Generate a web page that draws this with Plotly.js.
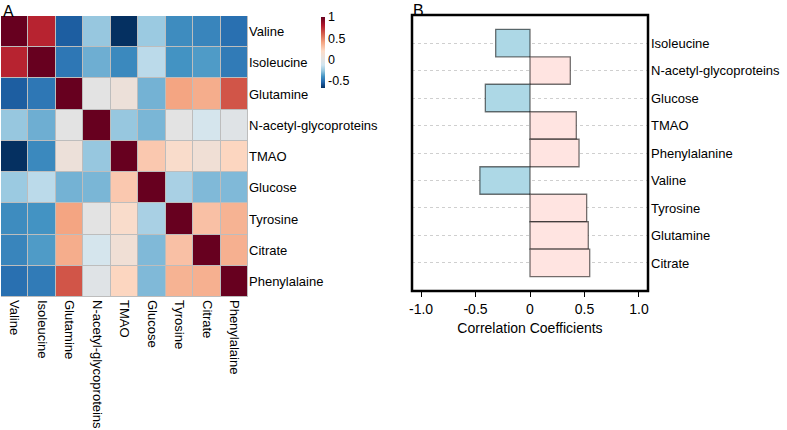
<!DOCTYPE html>
<html><head><meta charset="utf-8">
<script src="https://cdn.plot.ly/plotly-3.0.1.min.js"></script>
<style>html,body{margin:0;padding:0;background:#fff}#chart{width:787px;height:430px}</style>
</head><body><div id="chart"></div>
<script>
const heatLabels = ["Valine","Isoleucine","Glutamine","N-acetyl-glycoproteins","TMAO","Glucose","Tyrosine","Citrate","Phenylalaine"];
const corrValine      = [1.00, 0.77, -0.55, -0.26, -0.67, -0.25, -0.42, -0.44, -0.50];
const corrIsoleucine  = [0.77, 1.00, -0.48, -0.33, -0.43, -0.18, -0.40, -0.38, -0.47];
const corrGlutamine   = [-0.55, -0.48, 1.00, 0.00, 0.07, -0.32, 0.40, 0.37, 0.63];
const corrNAcetyl     = [-0.26, -0.33, 0.00, 1.00, -0.26, -0.31, 0.00, -0.10, -0.03];
const corrTMAO        = [-0.67, -0.43, 0.07, -0.26, 1.00, 0.27, 0.17, 0.10, 0.22];
const corrGlucose     = [-0.25, -0.18, -0.32, -0.31, 0.27, 1.00, -0.22, -0.30, -0.30];
const corrTyrosine    = [-0.42, -0.40, 0.40, 0.00, 0.17, -0.22, 1.00, 0.30, 0.35];
const corrCitrate     = [-0.44, -0.38, 0.37, -0.10, 0.10, -0.30, 0.30, 1.00, 0.36];
const corrPhenyl      = [-0.50, -0.47, 0.63, -0.03, 0.22, -0.30, 0.35, 0.36, 1.00];

const barLabels = ["Isoleucine","N-acetyl-glycoproteins","Glucose","TMAO","Phenylalanine","Valine","Tyrosine","Glutamine","Citrate"];
const barValues = [-0.315, 0.37, -0.41, 0.425, 0.45, -0.46, 0.52, 0.535, 0.548];

const xTickVals = [-1, -0.5, 0, 0.5, 1];
const xTickText = ["-1.0", "-0.5", "0", "0.5", "1.0"];
const cbTickVals = [-0.5, 0, 0.5, 1];
const cbTickText = ["-0.5", "0", "0.5", "1"];

const z = [corrValine, corrIsoleucine, corrGlutamine, corrNAcetyl, corrTMAO, corrGlucose, corrTyrosine, corrCitrate, corrPhenyl];
const zmin = -0.67, zmax = 1;
const f = v => (v - zmin) / (zmax - zmin);
const colorscale = [
  [0, "#053061"], [f(-0.53), "#2166AC"], [f(-0.4), "#4393C3"], [f(-0.27), "#92C5DE"],
  [f(-0.13), "#D1E5F0"], [f(0), "#E3E3E3"], [f(0.2), "#FDDBC7"], [f(0.4), "#F4A582"],
  [f(0.6), "#D6604D"], [f(0.8), "#B2182B"], [1, "#67001F"]
];

const W = 787, H = 430;
const px = v => v / W, py = v => 1 - v / H;
const fam = "Liberation Sans, Arial, sans-serif";
const font = {family: fam, size: 13, color: "#000"};
const tickFont = {family: fam, size: 14, color: "#000"};

const heat = {
  type: "heatmap", x: heatLabels, y: heatLabels, z: z,
  zmin: zmin, zmax: zmax, colorscale: colorscale, xgap: 1, ygap: 1,
  xaxis: "x", yaxis: "y", hoverinfo: "skip",
  colorbar: {
    x: px(321), xanchor: "left", y: py(17), yanchor: "top",
    len: 71 / H, lenmode: "fraction", thickness: 4, outlinewidth: 0,
    tickvals: cbTickVals, ticktext: cbTickText, ticks: "", ticklabelposition: "outside",
    tickfont: {family: fam, size: 12.5, color: "#000"}, xpad: 0, ypad: 0
  }
};

const bars = {
  type: "bar", orientation: "h", x: barValues, y: barLabels,
  xaxis: "x2", yaxis: "y2", width: 1,
  marker: {
    color: barValues.map(v => v < 0 ? "#ADD8E6" : "#FFE4E1"),
    line: {color: "rgba(0,0,0,0.55)", width: 1.3}
  },
  hoverinfo: "skip"
};

const layout = {
  width: W, height: H, margin: {l: 0, r: 0, t: 0, b: 0},
  paper_bgcolor: "#fff", plot_bgcolor: "rgba(0,0,0,0)",
  showlegend: false, font: font,
  xaxis: {domain: [px(1), px(248)], anchor: "y", tickangle: 90, ticks: "", showgrid: false,
          zeroline: false, tickfont: font, fixedrange: true, ticklabelstandoff: 2},
  yaxis: {domain: [py(297), py(16)], anchor: "x", side: "right", autorange: "reversed",
          ticks: "", showgrid: false, zeroline: false, tickfont: font},
  xaxis2: {domain: [px(412), px(648)], anchor: "y2", range: [-1.083, 1.083],
           tickvals: xTickVals, ticktext: xTickText, ticks: "outside", ticklen: 5,
           tickcolor: "#000", tickwidth: 1, showgrid: false, zeroline: false, showline: false,
           tickfont: tickFont, title: {text: "Correlation Coefficients", font: tickFont, standoff: 7}},
  yaxis2: {domain: [py(291), py(15)], anchor: "x2", side: "right", range: [9.02, -1.02],
           ticks: "", showgrid: true, gridcolor: "#cfcfcf", griddash: "dot", gridwidth: 1,
           zeroline: false, showline: false, tickfont: font, ticklabelstandoff: 2},
  shapes: [
    {type: "rect", xref: "x domain", yref: "y domain", x0: 0, x1: 1, y0: 0, y1: 1,
     fillcolor: "#BDBDBD", line: {width: 0}, layer: "below"},
    {type: "rect", xref: "x2 domain", yref: "y2 domain", x0: 0, x1: 1, y0: 0, y1: 1,
     fillcolor: "rgba(0,0,0,0)", line: {color: "#000", width: 2.5}, layer: "above"}
  ],
  annotations: [
    {text: "A", xref: "paper", yref: "paper", x: px(1), y: py(1), xanchor: "left", yanchor: "top",
     showarrow: false, font: {family: fam, size: 16, color: "#000"}},
    {text: "B", xref: "paper", yref: "paper", x: px(411), y: py(0), xanchor: "left", yanchor: "top",
     showarrow: false, font: {family: fam, size: 16, color: "#000"}}
  ]
};

Plotly.newPlot("chart", [heat, bars], layout, {displayModeBar: false, staticPlot: true});
</script></body></html>
